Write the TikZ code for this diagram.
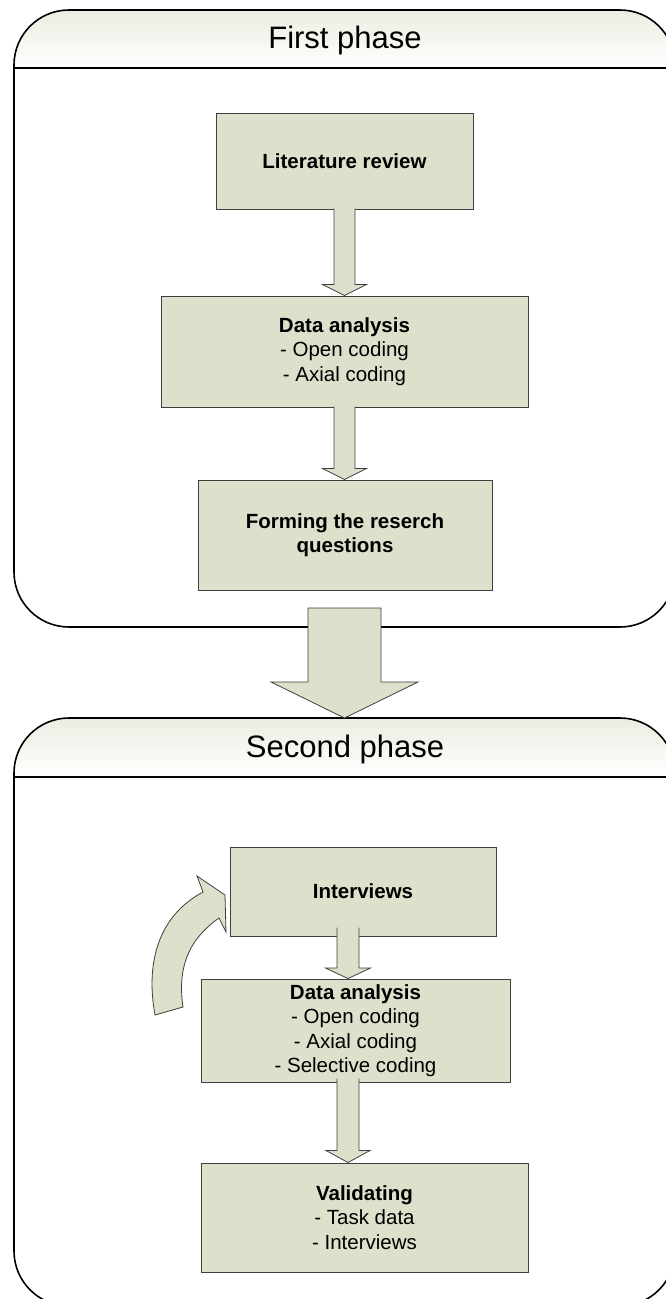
\documentclass[tikz,border=0pt]{standalone}
\usepackage{fontspec}
\setmainfont{Liberation Sans}
\usetikzlibrary{calc}
\definecolor{boxfill}{RGB}{221,224,203}
\definecolor{boxline}{RGB}{64,64,64}
\definecolor{hdrtop}{RGB}{236,236,226}
\newcommand\blockarrow[7]{%
 \fill[boxfill] let \p1=(#2), \p2=(#3) in
  ({#1pt-#4pt},{\y1+#7pt}) -- ({#1pt-#4pt},{\y2+#6pt}) -- ({#1pt-#5pt},{\y2+#6pt}) -- ({#1pt},{\y2}) -- ({#1pt+#5pt},{\y2+#6pt}) -- ({#1pt+#4pt},{\y2+#6pt}) -- ({#1pt+#4pt},{\y1+#7pt}) -- cycle;
 \draw[arrowline] let \p1=(#2), \p2=(#3) in
  ({#1pt-#4pt},{\y1+#7pt}) -- ({#1pt-#4pt},{\y2+#6pt}) -- ({#1pt-#5pt},{\y2+#6pt}) -- ({#1pt},{\y2}) -- ({#1pt+#5pt},{\y2+#6pt}) -- ({#1pt+#4pt},{\y2+#6pt}) -- ({#1pt+#4pt},{\y1+#7pt});
}
\begin{document}
\begin{tikzpicture}[x=1pt,y=-1pt,
  box/.style={draw=boxline, line width=1pt, fill=boxfill, inner sep=0pt, align=center,
              font=\fontsize{20.5}{24.5}\selectfont},
  frameline/.style={draw=black, line width=1.6pt},
  phasetitle/.style={font=\fontsize{31}{36}\selectfont, anchor=base, inner sep=0pt},
  arrowline/.style={draw=boxline, line width=0.8pt, line join=miter},
]
\clip (0,0) rectangle (666,1299);
\fill[white] (0,0) rectangle (666,1299);

% ---- frame 1
\begin{scope}
  \clip[rounded corners=55pt] (14,10) rectangle (675,627);
  \shade[top color=hdrtop, bottom color=white] (14,10) rectangle (675,68);
\end{scope}
\draw[frameline, rounded corners=55pt] (14,10) rectangle (675,627);
\draw[frameline] (14,68) -- (675,68);
\node[phasetitle] (t1) at (345,48) {First phase};

% ---- frame 2
\begin{scope}
  \clip[rounded corners=55pt] (14,718) rectangle (675,1306);
  \shade[top color=hdrtop, bottom color=white] (14,718) rectangle (675,777);
\end{scope}
\draw[frameline, rounded corners=55pt] (14,718) rectangle (675,1306);
\draw[frameline] (14,777) -- (675,777);
\node[phasetitle] (t2) at (345,757) {Second phase};

% ---- boxes
\node[box, minimum width=257pt, minimum height=96pt] (lit) at (344.5,161) {\textbf{Literature review}};
\node[box, minimum width=367pt, minimum height=111pt] (da1) at (344.5,351.5)
  {\textbf{Data analysis}\\- Open coding\\- Axial coding};
\node[box, minimum width=294pt, minimum height=110pt] (form) at (345,535)
  {\textbf{Forming the reserch}\\\textbf{questions}};
\node[box, minimum width=266pt, minimum height=89pt] (int) at (363,891.5) {\textbf{Interviews}};
\node[box, minimum width=309pt, minimum height=103pt] (da2) at (355.5,1030.5)
  {\textbf{Data analysis}\\- Open coding\\- Axial coding\\- Selective coding};
\node[box, minimum width=327pt, minimum height=109pt] (val) at (364.5,1217.5)
  {\textbf{Validating}\\- Task data\\- Interviews};

% ---- small block arrows
\blockarrow{344.5}{lit.south}{da1.north}{10.5}{22}{11}{1}
\blockarrow{344.5}{da1.south}{form.north}{10.5}{22}{11}{1}
\blockarrow{348}{int.south}{da2.north}{11}{22.5}{10.5}{9}
\blockarrow{348}{da2.south}{val.north}{11}{22}{12}{4}

% ---- big arrow between phases
\coordinate (bigtop) at (344.5,608);
\coordinate (f2top) at (344.5,718);
\filldraw[fill=boxfill, arrowline] let \p1=(bigtop), \p2=(f2top) in
  (\x1-36.5pt,\y1) -- (\x1-36.5pt,\y2+36pt) -- (\x1-73.5pt,\y2+36pt) -- (\x2,\y2)
  -- (\x1+73.5pt,\y2+36pt) -- (\x1+36.5pt,\y2+36pt) -- (\x1+36.5pt,\y1) -- cycle;

% ---- curved feedback arrow
\filldraw[fill=boxfill, arrowline]
  (155,1015) .. controls (145,960) and (160,915) .. (203,892)
  -- (197,876) -- (225,895) -- (226,932) -- (219,918)
  .. controls (195,935) and (176,960) .. (183,1007) -- cycle;
\end{tikzpicture}
\end{document}
